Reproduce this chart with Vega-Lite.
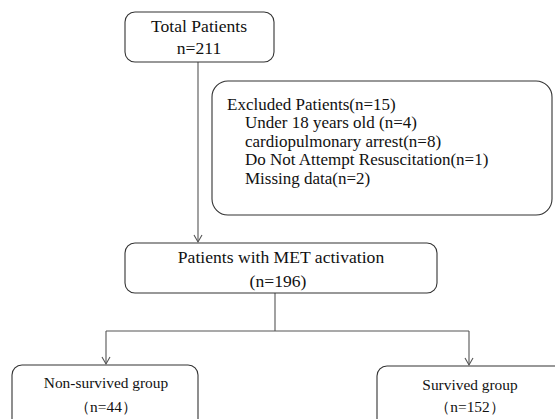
{
  "$schema": "https://vega.github.io/schema/vega-lite/v6.json",
  "width": 555,
  "height": 419,
  "padding": 0,
  "autosize": "none",
  "background": "white",
  "config": {"view": {"stroke": null}},
  "datasets": {
    "boxes": [
      {"id": "total", "x1": 125, "x2": 274, "y1": 12, "y2": 62},
      {"id": "met", "x1": 125, "x2": 437, "y1": 243, "y2": 293},
      {"id": "nonsurv", "x1": 12, "x2": 198, "y1": 365, "y2": 430},
      {"id": "surv", "x1": 377, "x2": 565, "y1": 366, "y2": 430}
    ],
    "bigboxes": [
      {"id": "excluded", "x1": 212, "x2": 552, "y1": 81, "y2": 215}
    ],
    "links": [
      {"x1": 198, "y1": 62, "x2": 198, "y2": 242},
      {"x1": 275, "y1": 293, "x2": 275, "y2": 331},
      {"x1": 106, "y1": 331, "x2": 469, "y2": 331},
      {"x1": 106, "y1": 331, "x2": 106, "y2": 364},
      {"x1": 469, "y1": 331, "x2": 469, "y2": 365}
    ],
    "arrows": [
      {"x": 198, "y": 242},
      {"x": 106, "y": 364},
      {"x": 469, "y": 365}
    ],
    "labels": [
      {"kind": "center", "x": 199, "y": 27, "label": "Total Patients"},
      {"kind": "center", "x": 199, "y": 49, "label": "n=211"},
      {"kind": "left", "x": 227, "y": 105, "label": "Excluded Patients(n=15)"},
      {"kind": "left", "x": 245, "y": 123, "label": "Under 18 years old (n=4)"},
      {"kind": "left", "x": 245, "y": 141.5, "label": "cardiopulmonary arrest(n=8)"},
      {"kind": "left", "x": 245, "y": 160, "label": "Do Not Attempt Resuscitation(n=1)"},
      {"kind": "left", "x": 245, "y": 178.5, "label": "Missing data(n=2)"},
      {"kind": "center", "x": 281, "y": 258, "label": "Patients with MET activation"},
      {"kind": "center", "x": 278, "y": 282, "label": "(n=196)"},
      {"kind": "bottom", "x": 106, "y": 383, "label": "Non-survived group"},
      {"kind": "bottom", "x": 106, "y": 407, "label": "（n=44）"},
      {"kind": "bottom", "x": 470, "y": 385, "label": "Survived group"},
      {"kind": "bottom", "x": 470, "y": 407, "label": "（n=152）"}
    ]
  },
  "layer": [
    {
      "data": {"name": "links"},
      "mark": {"type": "rule", "color": "#555555", "strokeWidth": 1.1},
      "encoding": {
        "x": {"field": "x1", "type": "quantitative", "scale": {"domain": [0, 555], "nice": false, "zero": false}, "axis": null},
        "x2": {"field": "x2"},
        "y": {"field": "y1", "type": "quantitative", "scale": {"domain": [0, 419], "nice": false, "zero": false, "reverse": true}, "axis": null},
        "y2": {"field": "y2"}
      }
    },
    {
      "data": {"name": "boxes"},
      "mark": {"type": "rect", "fill": "white", "stroke": "#333333", "strokeWidth": 1.1, "cornerRadius": 10},
      "encoding": {
        "x": {"field": "x1", "type": "quantitative"},
        "x2": {"field": "x2"},
        "y": {"field": "y1", "type": "quantitative"},
        "y2": {"field": "y2"}
      }
    },
    {
      "data": {"name": "bigboxes"},
      "mark": {"type": "rect", "fill": "white", "stroke": "#333333", "strokeWidth": 1.1, "cornerRadius": 16},
      "encoding": {
        "x": {"field": "x1", "type": "quantitative"},
        "x2": {"field": "x2"},
        "y": {"field": "y1", "type": "quantitative"},
        "y2": {"field": "y2"}
      }
    },
    {
      "data": {"name": "arrows"},
      "mark": {"type": "point", "shape": "M-1,-1.75L0,0L1,-1.75", "filled": false, "stroke": "#555555", "strokeWidth": 1.1, "size": 64, "opacity": 1},
      "encoding": {
        "x": {"field": "x", "type": "quantitative"},
        "y": {"field": "y", "type": "quantitative"}
      }
    },
    {
      "data": {"name": "labels"},
      "transform": [{"filter": "datum.kind === 'center'"}],
      "mark": {"type": "text", "font": "Liberation Serif", "fontSize": 17.6, "align": "center", "baseline": "middle", "color": "#111111"},
      "encoding": {
        "x": {"field": "x", "type": "quantitative"},
        "y": {"field": "y", "type": "quantitative"},
        "text": {"field": "label"}
      }
    },
    {
      "data": {"name": "labels"},
      "transform": [{"filter": "datum.kind === 'left'"}],
      "mark": {"type": "text", "font": "Liberation Serif", "fontSize": 17, "align": "left", "baseline": "middle", "color": "#111111"},
      "encoding": {
        "x": {"field": "x", "type": "quantitative"},
        "y": {"field": "y", "type": "quantitative"},
        "text": {"field": "label"}
      }
    },
    {
      "data": {"name": "labels"},
      "transform": [{"filter": "datum.kind === 'bottom'"}],
      "mark": {"type": "text", "font": "Liberation Serif", "fontSize": 15.4, "align": "center", "baseline": "middle", "color": "#111111"},
      "encoding": {
        "x": {"field": "x", "type": "quantitative"},
        "y": {"field": "y", "type": "quantitative"},
        "text": {"field": "label"}
      }
    }
  ]
}
